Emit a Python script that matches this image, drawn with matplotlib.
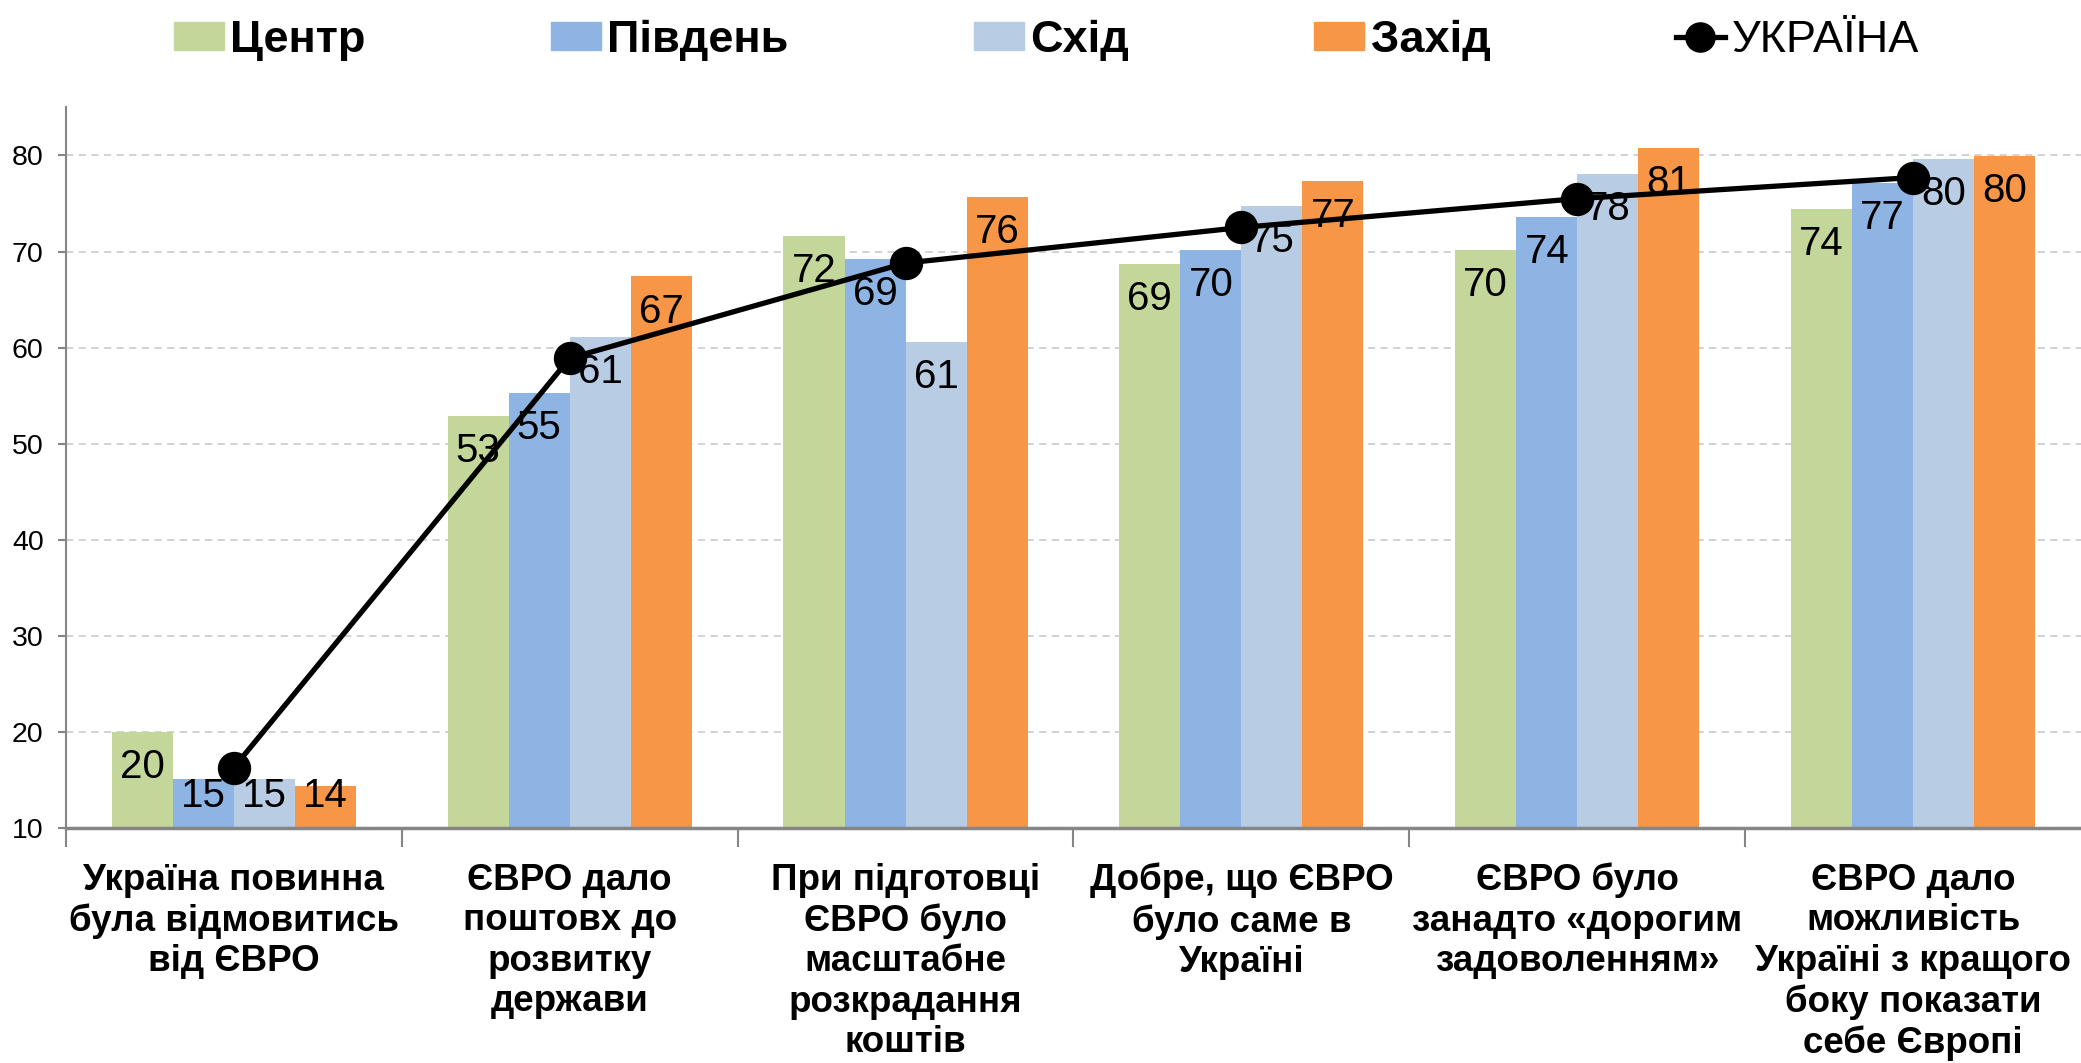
import numpy as np
import matplotlib
matplotlib.use("Agg")
import matplotlib.pyplot as plt
from matplotlib.patches import Patch
from matplotlib.lines import Line2D

plt.rcParams['font.family'] = ['Liberation Sans', 'DejaVu Sans']

categories = [
    "Україна повинна\nбула відмовитись\nвід ЄВРО",
    "ЄВРО дало\nпоштовх до\nрозвитку\nдержави",
    "При підготовці\nЄВРО було\nмасштабне\nрозкрадання\nкоштів",
    "Добре, що ЄВРО\nбуло саме в\nУкраїні",
    "ЄВРО було\nзанадто «дорогим\nзадоволенням»",
    "ЄВРО дало\nможливість\nУкраїні з кращого\nбоку показати\nсебе Європі",
]
centr = [20.0, 52.9, 71.6, 68.7, 70.2, 74.4]
pivden = [15.1, 55.3, 69.2, 70.2, 73.6, 77.1]
skhid = [15.1, 61.1, 60.6, 74.7, 78.1, 79.6]
zakhid = [14.4, 67.4, 75.7, 77.3, 80.8, 79.9]
ukraina = [16.3, 58.9, 68.8, 72.5, 75.5, 77.7]

series = [("Центр", centr, "#C4D79B"),
          ("Південь", pivden, "#8DB4E2"),
          ("Схід", skhid, "#B8CCE4"),
          ("Захід", zakhid, "#F79646")]

fig = plt.figure(figsize=(20.81, 10.63), dpi=100)
ax = fig.add_axes([0.0317, 0.221, 0.9683, 0.678])

x = np.arange(len(categories))
bw = 0.727 / 4
for k, (name, vals, col) in enumerate(series):
    pos = x + (k - 1.5) * bw
    ax.bar(pos, np.array(vals) - 10, bottom=10, width=bw, color=col, zorder=2)
    for px, v in zip(pos, vals):
        # inside-end label, kept above the axis for short bars
        ax.text(px, max(v - 3.65, 13.3), f"{round(v)}", ha="center", va="center",
                fontsize=29, zorder=3)

ax.plot(x, ukraina, color="black", lw=3.8, marker="o", markersize=23, zorder=4)

ax.set_xlim(-0.5, 5.5)
ax.set_ylim(10, 85)
ax.set_yticks(range(10, 81, 10))
ax.tick_params(axis="y", labelsize=20.5, length=6, color="#868686", width=1.5, pad=10)
ax.yaxis.grid(True, linestyle=(0, (4, 3)), color="#CFCFCF", lw=1.3)
ax.set_axisbelow(True)

ax.set_xticks(np.arange(-0.5, 5.5, 1))
ax.set_xticklabels([])
ax.tick_params(axis="x", which="major", length=14, color="#868686", width=1.5)
ax.set_xticks(x, minor=True)
ax.set_xticklabels(categories, minor=True, fontsize=26.5, fontweight="bold", linespacing=1.2)
ax.tick_params(axis="x", which="minor", length=0, pad=25)

for s in ["top", "right"]:
    ax.spines[s].set_visible(False)
for s in ["left", "bottom"]:
    ax.spines[s].set_color("#868686")
ax.spines["left"].set_linewidth(1.5)
ax.spines["bottom"].set_linewidth(2.5)

handles = [Patch(color=c) for _, _, c in series]
handles.append(Line2D([], [], color="black", lw=3.8, marker="o", markersize=21))
labels = [n for n, _, _ in series] + ["УКРАЇНА"]
leg = fig.legend(handles, labels, loc="center", bbox_to_anchor=(0.503, 0.962), ncol=5,
                 frameon=False, fontsize=32.5, handlelength=1.1, handleheight=0.55,
                 handletextpad=0.15, columnspacing=4.1)
for t in leg.get_texts()[:4]:
    t.set_fontweight("bold")

fig.savefig("out.png", dpi=100)
